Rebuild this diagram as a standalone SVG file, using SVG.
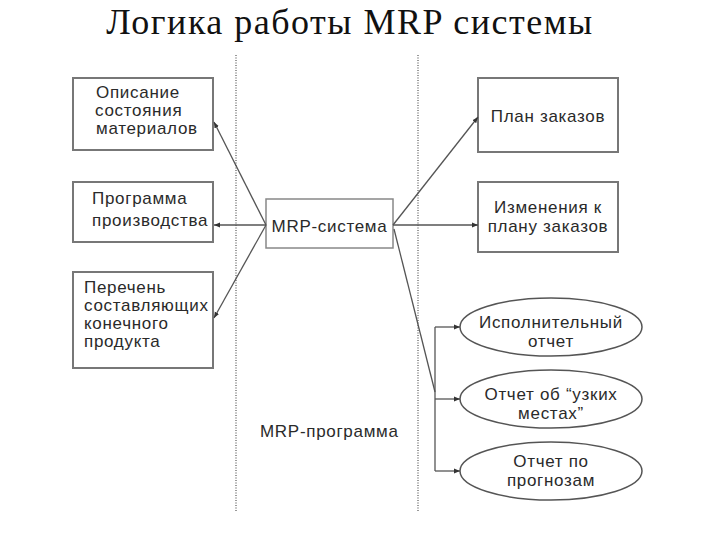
<svg xmlns="http://www.w3.org/2000/svg" width="720" height="540" viewBox="0 0 720 540">
<defs>
<marker id="ah" viewBox="0 0 10 10" refX="10" refY="5" markerWidth="6" markerHeight="6" markerUnits="userSpaceOnUse" orient="auto">
<path d="M0,1 L10,5 L0,9 Z" fill="#333"/>
</marker>
<style>
.t{font-family:"Liberation Sans",Arial,sans-serif;font-size:17px;fill:#2a2a2a;letter-spacing:0.7px}
.c{text-anchor:middle}
.box{fill:#fff;stroke:#777;stroke-width:2}
.ell{fill:#fff;stroke:#555;stroke-width:1.5}
.ln{fill:none;stroke:#555;stroke-width:1.3}
.ar{marker-end:url(#ah)}
.dot{stroke:#999;stroke-width:2;stroke-dasharray:1 1.5}
</style>
</defs>
<rect width="720" height="540" fill="#fff"/>
<text x="350" y="34" text-anchor="middle" style="font-family:'Liberation Serif','Times New Roman',serif;font-size:36px;letter-spacing:1.5px;fill:#111">Логика работы MRP системы</text>
<g id="dividers">
<line class="dot" x1="236" y1="55" x2="236" y2="512"/>
<line class="dot" x1="418" y1="55" x2="418" y2="512"/>
</g>
<g id="n-opisanie">
<rect class="box" x="73" y="78" width="140" height="72"/>
<text class="t" x="96" y="98">Описание</text>
<text class="t" x="95" y="116">состояния</text>
<text class="t" x="96" y="134">материалов</text>
</g>
<g id="n-programma">
<rect class="box" x="73" y="182" width="140" height="60"/>
<text class="t" x="92" y="204">Программа</text>
<text class="t" x="92" y="226">производства</text>
</g>
<g id="n-perechen">
<rect class="box" x="73" y="272" width="140" height="96"/>
<text class="t" x="84" y="293">Перечень</text>
<text class="t" x="84" y="311">составляющих</text>
<text class="t" x="84" y="329">конечного</text>
<text class="t" x="84" y="347">продукта</text>
</g>
<g id="n-mrp">
<rect x="266" y="199" width="127" height="49" fill="#fff" stroke="#888" stroke-width="1.5"/>
<text class="t c" x="329.5" y="232">MRP-система</text>
</g>
<g id="n-plan">
<rect class="box" x="478" y="78" width="140" height="74"/>
<text class="t c" x="548" y="122">План заказов</text>
</g>
<g id="n-izm">
<rect class="box" x="478" y="182" width="140" height="70"/>
<text class="t c" x="548" y="213">Изменения к</text>
<text class="t c" x="548" y="232">плану заказов</text>
</g>
<g id="n-isp">
<ellipse class="ell" cx="551" cy="327" rx="91" ry="29"/>
<text class="t c" x="551" y="328">Исполнительный</text>
<text class="t c" x="551" y="347">отчет</text>
</g>
<g id="n-uzk">
<ellipse class="ell" cx="551" cy="399" rx="91" ry="29"/>
<text class="t c" x="551" y="400">Отчет об “узких</text>
<text class="t c" x="551" y="419">местах”</text>
</g>
<g id="n-progn">
<ellipse class="ell" cx="551" cy="471" rx="91" ry="29"/>
<text class="t c" x="551" y="467">Отчет по</text>
<text class="t c" x="551" y="486">прогнозам</text>
</g>
<g id="label">
<text class="t" x="260" y="437">MRP-программа</text>
</g>
<g id="connectors">
<line class="ln ar" x1="266" y1="225" x2="214" y2="122"/>
<line class="ln ar" x1="266" y1="225" x2="214" y2="225"/>
<line class="ln ar" x1="266" y1="225" x2="214" y2="318"/>
<line class="ln ar" x1="393" y1="225" x2="478" y2="117"/>
<line class="ln ar" x1="393" y1="225" x2="478" y2="225"/>
<polyline class="ln" points="394,229 435,392"/>
<polyline class="ln" points="435,327 435,471"/>
<line class="ln ar" x1="435" y1="327" x2="460" y2="327"/>
<line class="ln ar" x1="435" y1="399" x2="460" y2="399"/>
<line class="ln ar" x1="435" y1="471" x2="460" y2="471"/>
</g>
</svg>
